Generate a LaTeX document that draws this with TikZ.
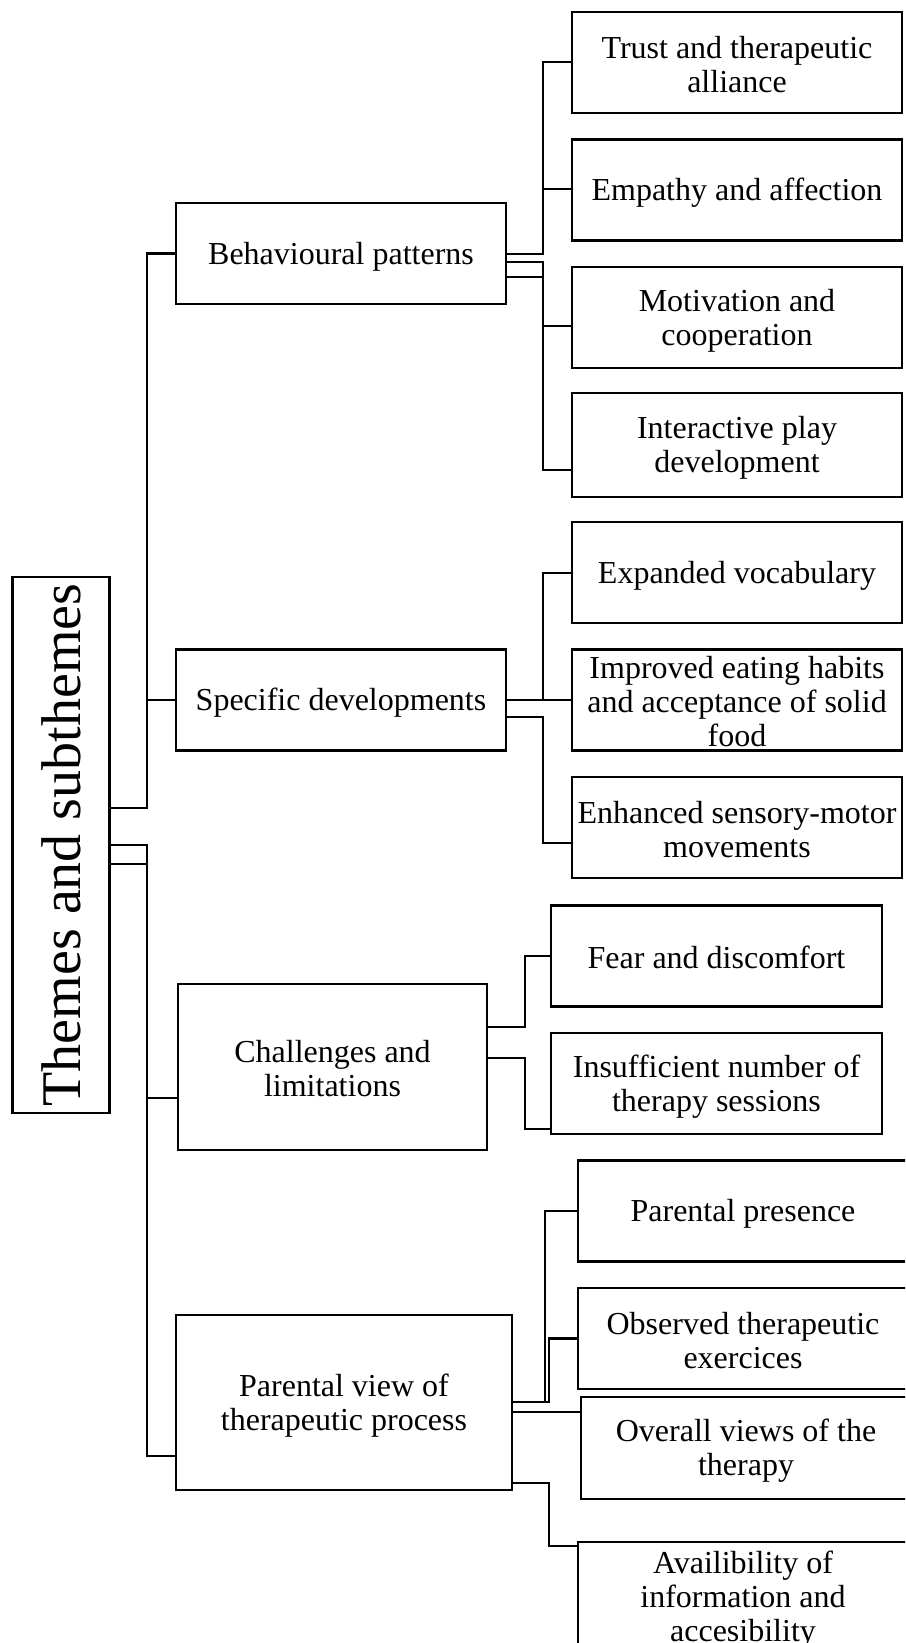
\documentclass[tikz,border=0pt]{standalone}
\usepackage{fontspec}
\setmainfont{Liberation Serif}
\usetikzlibrary{calc}
\tikzset{
  strut h/.initial=0.89em,
  strut d/.initial=0.1em,
  box/.style={draw, line width=0.9pt, align=center, inner xsep=1pt, inner ysep=0pt, font=\fontsize{12}{12.8}\selectfont,
    execute at begin node={\rule{0pt}{\dimexpr\pgfkeysvalueof{/tikz/strut h}\relax}},
    execute at end node={\rule[-\pgfkeysvalueof{/tikz/strut d}]{0pt}{0pt}}},
  two/.style={strut h=0.89em+12.8pt},
  three/.style={strut h=0.89em+25.6pt},
  rootbox/.style={draw, line width=0.9pt, rotate=90, inner sep=1pt, font=\fontsize{21}{24}\selectfont, minimum width=536*0.375pt, minimum height=97*0.375pt},
  themebox/.style={box, minimum width=330*0.375pt, minimum height=101*0.375pt},
  subbox/.style={box, minimum width=330*0.375pt, minimum height=101*0.375pt},
  conn/.style={line width=0.9pt},
}

\begin{document}
\begin{tikzpicture}[x=0.375pt, y=-0.375pt]
  \clip (0,0) rectangle (905,1643);
  % root and themes
  \node[rootbox] (root) at (61,845) {Themes and subthemes};
  \node[themebox] (bp) at (341,253.5) {Behavioural patterns};
  \node[themebox] (sd) at (341,700) {Specific developments};
  \node[themebox, two, minimum width=309*0.375pt, minimum height=166*0.375pt] (cl) at (332.5,1067) {Challenges and\\limitations};
  \node[themebox, two, minimum width=336*0.375pt, minimum height=175*0.375pt] (pv) at (344,1402.5) {Parental view of\\therapeutic process};
  % subthemes
  \node[subbox, two] (trust) at (737,62.5) {Trust and therapeutic\\alliance};
  \node[subbox] (emp) at (737,190) {Empathy and affection};
  \node[subbox, two] (mot) at (737,317.5) {Motivation and\\cooperation};
  \node[subbox, two, minimum height=104*0.375pt] (play) at (737,445) {Interactive play\\development};
  \node[subbox] (vocab) at (737,572.5) {Expanded vocabulary};
  \node[subbox, three] (eat) at (737,700) {Improved eating habits\\and acceptance of solid\\food};
  \node[subbox, two] (motor) at (737,827.5) {Enhanced sensory-motor\\movements};
  \node[subbox, minimum width=331*0.375pt] (fear) at (716.5,956) {Fear and discomfort};
  \node[subbox, two, minimum width=331*0.375pt] (sessions) at (716.5,1083.5) {Insufficient number of\\therapy sessions};
  \node[subbox] (presence) at (743,1211) {Parental presence};
  \node[subbox, two] (observed) at (743,1338.5) {Observed therapeutic\\exercices};
  \node[subbox, two, minimum height=102*0.375pt] (overall) at (746,1448) {Overall views of the\\therapy};
  \node[subbox, three, minimum height=110*0.375pt] (avail) at (743,1597) {Availibility of\\information and\\accesibility};
  % bus lines
  \coordinate (trunk) at (147,0);
  \coordinate (busbp) at (543,0);
  \coordinate (buscl) at (525,0);
  \coordinate (buspva) at (545,0);
  \coordinate (buspvb) at (549,0);
  % connectors
  \foreach \t/\a/\b in {bp/808/253.5, sd/808/700, cl/845/1098, pv/864/1456}
    \draw[conn] (root.south |- 0,\a) -- (trunk |- 0,\a) |- (\t.west |- 0,\b);
  \foreach \s/\a/\b in {trust/254/62, emp/254/189, mot/262/326, play/277/470}
    \draw[conn] (bp.east |- 0,\a) -- (busbp |- 0,\a) |- (\s.west |- 0,\b);
  \foreach \s/\a/\b in {vocab/700/573, eat/700/700, motor/717/843}
    \draw[conn] (sd.east |- 0,\a) -- (busbp |- 0,\a) |- (\s.west |- 0,\b);
  \foreach \s/\a/\b in {fear/1027/956, sessions/1058/1129}
    \draw[conn] (cl.east |- 0,\a) -- (buscl |- 0,\a) |- (\s.west |- 0,\b);
  \draw[conn] (pv.east |- 0,1402) -- (buspva |- 0,1402) |- (presence.west);
  \draw[conn] (pv.east |- 0,1402) -- (buspvb |- 0,1402) |- (observed.west);
  \draw[conn] (pv.east |- 0,1412) -- (overall.west |- 0,1412);
  \draw[conn] (pv.east |- 0,1483) -- (buspvb |- 0,1483) |- (avail.west |- 0,1546);
\end{tikzpicture}
\end{document}
